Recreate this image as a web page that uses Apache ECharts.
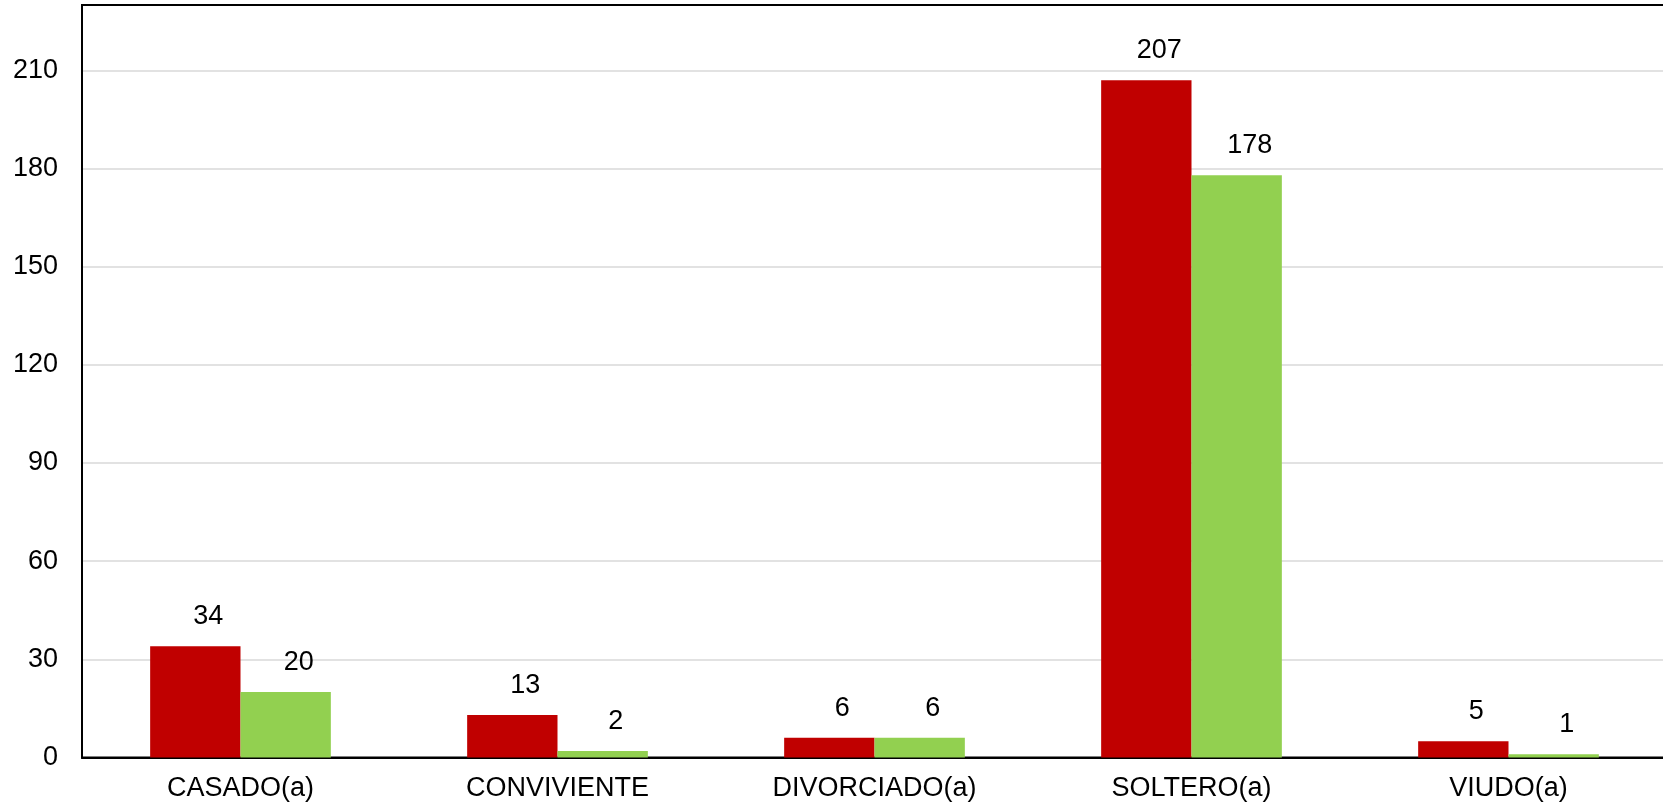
<!DOCTYPE html>
<html>
<head>
<meta charset="utf-8">
<script src="https://cdn.jsdelivr.net/npm/echarts@6/dist/echarts.min.js"></script>
<style>
html,body{margin:0;padding:0;background:#fff;overflow:hidden;}
#chart{width:1663px;height:807px;}
</style>
</head>
<body>
<div id="chart"></div>
<script>
const categories = ['CASADO(a)', 'CONVIVIENTE', 'DIVORCIADO(a)', 'SOLTERO(a)', 'VIUDO(a)'];
const seriesRed = [34, 13, 6, 207, 5];
const seriesGreen = [20, 2, 6, 178, 1];
const yTicks = [0, 30, 60, 90, 120, 150, 180, 210];

const FONT = '"Liberation Sans", Arial, sans-serif';
const chart = echarts.init(document.getElementById('chart'), null, {renderer: 'canvas'});
const labelStyle = {
  show: true, position: 'top', distance: 16, offset: [13, 0],
  color: '#000', fontSize: 27, fontFamily: FONT
};
chart.setOption({
  animation: false,
  backgroundColor: '#fff',
  grid: {
    left: 82, width: 1585, top: 5, bottom: 49.5,
    outerBoundsMode: 'none', containLabel: false,
    show: true, borderColor: '#000', borderWidth: 2, backgroundColor: 'transparent'
  },
  xAxis: {
    type: 'category',
    data: categories,
    axisLine: {show: true, lineStyle: {color: '#000', width: 2}},
    axisTick: {show: false},
    axisLabel: {color: '#000', fontSize: 27, fontFamily: FONT, margin: 18, interval: 0}
  },
  yAxis: {
    type: 'value',
    min: 0, max: 230, interval: 30,
    axisLine: {show: true, lineStyle: {color: '#000', width: 2}},
    axisTick: {show: false},
    splitLine: {show: true, showMinLine: false, showMaxLine: false, lineStyle: {color: '#d9d9d9', width: 1.5}},
    axisLabel: {
      color: '#000', fontSize: 27, fontFamily: FONT, margin: 24,
      formatter: function (v) { return yTicks.indexOf(v) >= 0 ? String(v) : ''; }
    }
  },
  series: [
    {
      type: 'bar', data: seriesRed, barGap: '0%', barCategoryGap: '43%',
      itemStyle: {color: '#C00000'}, label: labelStyle
    },
    {
      type: 'bar', data: seriesGreen, barGap: '0%', barCategoryGap: '43%',
      itemStyle: {color: '#92D050'}, label: labelStyle
    }
  ]
});
</script>
</body>
</html>
